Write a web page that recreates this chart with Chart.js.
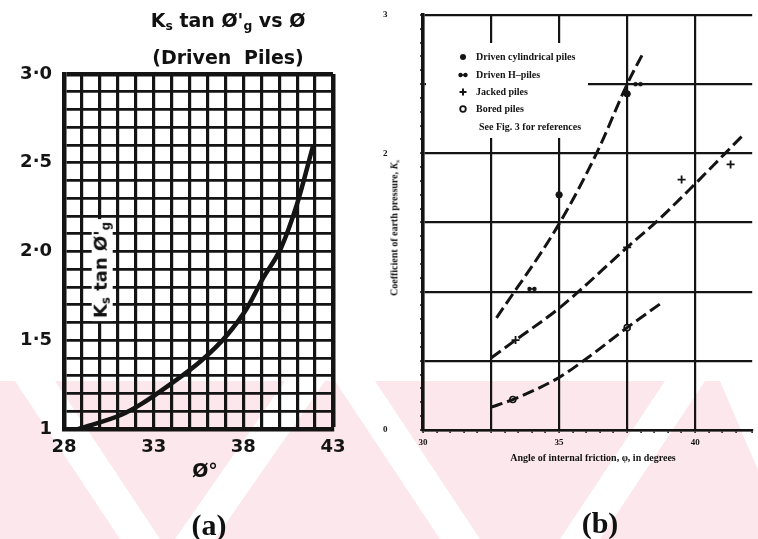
<!DOCTYPE html>
<html><head><meta charset="utf-8">
<script src="https://cdn.jsdelivr.net/npm/chart.js@4.4.0/dist/chart.umd.min.js"></script>
<style>
html,body{margin:0;padding:0;background:#fff;}
#wrap{position:relative;width:758px;height:539px;overflow:hidden;background:#fff;}
#bg{position:absolute;left:0;top:0;}
#ca{position:absolute;left:0;top:0;}
#cb{position:absolute;left:380px;top:0;}
.t{position:absolute;white-space:nowrap;color:#111;transform:translate(-50%,-50%);line-height:1;}
.sans{font-family:"DejaVu Sans",sans-serif;font-weight:bold;}
.serif{font-family:"Liberation Serif",serif;font-weight:bold;}
.t sub{font-size:65%;vertical-align:-0.25em;}
</style></head><body>
<div id="wrap">
<canvas id="bg" width="758" height="539"></canvas>
<canvas id="ca" width="380" height="539"></canvas>
<canvas id="cb" width="378" height="539"></canvas>
<div class="t sans" style="left:228px;top:22px;font-size:19px;">K<sub>s</sub> tan Ø'<sub>g</sub> vs Ø</div>
<div class="t sans" style="left:228px;top:57px;font-size:19px;word-spacing:6px;">(Driven Piles)</div>
<div class="t sans" style="left:102px;top:270px;font-size:18px;background:#fff;padding:0 3px;transform:translate(-50%,-50%) rotate(-90deg);">K<sub>s</sub> tan Ø'<sub>g</sub></div>
<div class="t sans" style="left:205px;top:470px;font-size:19px;">Ø°</div>
<div class="t serif" style="left:209px;top:525px;font-size:30px;">(a)</div>
<div class="t serif" style="left:600px;top:523px;font-size:30px;">(b)</div>
<div class="t serif" style="left:593px;top:458px;font-size:10px;">Angle of internal friction, φ, in degrees</div>
<div class="t serif" style="left:395px;top:228px;font-size:10px;transform:translate(-50%,-50%) rotate(-90deg);">Coefficient of earth pressure, <i>K</i><sub>s</sub></div>
</div>
<script>
// ---------- Chart (a) data ----------
const phiA = [28.8, 31.2, 32.3, 33.9, 35.6, 37.1, 38.2, 39.1, 40.1, 41.0, 41.9];
const ksTanA = [1.00, 1.08, 1.14, 1.25, 1.38, 1.53, 1.68, 1.85, 2.02, 2.27, 2.60];
const xTickLabelsA = [28, 33, 38, 43];
const yTickValsA = [1, 1.5, 2, 2.5, 3];
const yTickLabelsA = ['1', '1·5', '2·0', '2·5', '3·0'];

// ---------- Chart (b) data ----------
const phiCylCurve = [32.7, 35.0, 36.4, 37.5, 38.1];
const ksCylCurve = [0.81, 1.49, 2.01, 2.50, 2.73];
const phiJackCurve = [32.5, 33.4, 35.0, 37.5, 38.6, 39.9, 41.1, 41.8];
const ksJackCurve = [0.52, 0.65, 0.88, 1.32, 1.51, 1.76, 2.00, 2.14];
const phiBoredCurve = [32.5, 33.3, 35.0, 36.1, 37.5, 38.7];
const ksBoredCurve = [0.165, 0.22, 0.38, 0.53, 0.74, 0.91];
const phiCylPts = [35.0, 37.5];
const ksCylPts = [1.70, 2.43];
const phiHPts = [34.0, 37.9];
const ksHPts = [1.02, 2.50];
const phiJackPts = [33.4, 37.5, 39.5, 41.3];
const ksJackPts = [0.65, 1.32, 1.81, 1.92];
const phiBoredPts = [33.3, 37.5];
const ksBoredPts = [0.22, 0.74];
const xTickLabelsB = [30, 35, 40];
const yTickLabelsB = [0, 2, 3];
const legendLabelsB = ['Driven cylindrical piles', 'Driven H\u2013piles', 'Jacked piles', 'Bored piles', 'See Fig. 3 for references'];

const ink = '#141414';
const pts = (xs, ys) => xs.map((x, i) => ({x, y: ys[i]}));

// ---------- background watermark band ----------
(function(){
  const c = document.getElementById('bg').getContext('2d');
  c.fillStyle = '#fce8ec';
  c.fillRect(0, 381, 758, 158);
  c.fillStyle = '#ffffff';
  const stripes = [
    [[15,381],[55,381],[160,539],[120,539]],
    [[175,539],[215,539],[325,381],[285,381]],
    [[335,381],[375,381],[480,539],[440,539]],
    [[560,539],[600,539],[705,381],[665,381]],
    [[720,381],[758,381],[758,470]]
  ];
  stripes.forEach(p => { c.beginPath(); c.moveTo(p[0][0], p[0][1]); p.slice(1).forEach(q => c.lineTo(q[0], q[1])); c.closePath(); c.fill(); });
})();

// ---------- Chart (a) ----------
new Chart(document.getElementById('ca'), {
  type: 'scatter',
  data: { datasets: [{
    data: pts(phiA, ksTanA), showLine: true, borderColor: ink, borderWidth: 4.5,
    pointRadius: 0, tension: 0.4, cubicInterpolationMode: 'monotone'
  }]},
  options: {
    responsive: false, animation: false,
    layout: { padding: { top: 74, right: 47, left: 0, bottom: 0 } },
    plugins: { legend: { display: false }, tooltip: { enabled: false } },
    scales: {
      x: {
        type: 'linear', min: 28, max: 43,
        afterFit: s => { s.height = 110; },
        ticks: { stepSize: 1, autoSkip: false, maxRotation: 0, padding: 8, color: ink,
          font: { family: 'DejaVu Sans', weight: 'bold', size: 18 },
          callback: v => xTickLabelsA.includes(Math.round(v * 10) / 10) ? String(v) : '' },
        grid: { color: ink, lineWidth: c => (c.tick && c.tick.value >= 43) ? 4.5 : 3.2, drawTicks: false },
        border: { color: ink, width: 4.5 }
      },
      y: {
        min: 1, max: 3,
        afterFit: s => { s.width = 64; },
        ticks: { stepSize: 0.1, autoSkip: false, padding: 12, color: ink,
          font: { family: 'DejaVu Sans', weight: 'bold', size: 18 },
          callback: v => { const i = yTickValsA.indexOf(Math.round(v * 10) / 10); return i >= 0 ? yTickLabelsA[i] : ''; } },
        grid: { color: ink, lineWidth: c => (c.tick && c.tick.value >= 2.999) ? 4.5 : 2.8, drawTicks: false },
        border: { color: ink, width: 4.5 }
      }
    }
  }
});

// ---------- Chart (b) ----------
function hMarker() {
  const c = document.createElement('canvas'); c.width = 10; c.height = 8;
  const g = c.getContext('2d'); g.fillStyle = ink; g.strokeStyle = ink; g.lineWidth = 1.5;
  g.beginPath(); g.arc(2.5, 4, 2.2, 0, 7); g.fill();
  g.beginPath(); g.arc(7.5, 4, 2.2, 0, 7); g.fill();
  g.beginPath(); g.moveTo(2.5, 4); g.lineTo(7.5, 4); g.stroke();
  return c;
}
const hImg = hMarker();
const isMajorB = (v, step) => Math.abs(v / step - Math.round(v / step)) < 1e-6;

const legendB = {
  id: 'legendB',
  beforeDatasetsDraw(chart) {
    const g = chart.ctx; g.save();
    g.fillStyle = '#ffffff'; g.fillRect(46, 43, 162, 95);
    const mx = 83, tx = 96, rows = [57, 75, 92, 109, 127];
    g.fillStyle = ink; g.strokeStyle = ink;
    g.beginPath(); g.arc(mx, rows[0], 3, 0, 7); g.fill();
    g.drawImage(hImg, mx - 5, rows[1] - 4);
    g.lineWidth = 2; g.beginPath(); g.moveTo(mx - 3.5, rows[2]); g.lineTo(mx + 3.5, rows[2]); g.moveTo(mx, rows[2] - 3.5); g.lineTo(mx, rows[2] + 3.5); g.stroke();
    g.lineWidth = 1.8; g.beginPath(); g.arc(mx, rows[3], 2.8, 0, 7); g.stroke();
    g.font = 'bold 10px "Liberation Serif"'; g.textBaseline = 'middle'; g.textAlign = 'left';
    legendLabelsB.forEach((t, i) => g.fillText(t, i === 4 ? tx + 3 : tx, rows[i]));
    g.restore();
  }
};

new Chart(document.getElementById('cb'), {
  type: 'scatter',
  data: { datasets: [
    { data: pts(phiCylCurve, ksCylCurve), showLine: true, borderColor: ink, borderWidth: 3, borderDash: [12, 5], pointRadius: 0, tension: 0.4, cubicInterpolationMode: 'monotone' },
    { data: pts(phiJackCurve, ksJackCurve), showLine: true, borderColor: ink, borderWidth: 3, borderDash: [12, 5], pointRadius: 0, tension: 0.4, cubicInterpolationMode: 'monotone' },
    { data: pts(phiBoredCurve, ksBoredCurve), showLine: true, borderColor: ink, borderWidth: 3, borderDash: [12, 5], pointRadius: 0, tension: 0.4, cubicInterpolationMode: 'monotone' },
    { data: pts(phiCylPts, ksCylPts), pointStyle: 'circle', pointRadius: 3.2, backgroundColor: ink, borderColor: ink },
    { data: pts(phiHPts, ksHPts), pointStyle: hImg, pointRadius: 4 },
    { data: pts(phiJackPts, ksJackPts), pointStyle: 'cross', pointRadius: 4, borderColor: ink, borderWidth: 1.8 },
    { data: pts(phiBoredPts, ksBoredPts), pointStyle: 'circle', pointRadius: 3, backgroundColor: '#fff', borderColor: ink, borderWidth: 1.6 }
  ]},
  options: {
    responsive: false, animation: false,
    layout: { padding: { top: 15, right: 0, left: 3, bottom: 0 } },
    plugins: { legend: { display: false }, tooltip: { enabled: false } },
    scales: {
      x: {
        type: 'linear', min: 30, max: 30 + 335 / 27.7,
        afterFit: s => { s.height = 109; },
        ticks: { stepSize: 0.5, autoSkip: false, maxRotation: 0, padding: 4, color: ink,
          font: { family: 'Liberation Serif', weight: 'bold', size: 9 },
          callback: v => xTickLabelsB.includes(Math.round(v * 10) / 10) ? String(v) : '' },
        grid: { color: c => (c.tick && isMajorB(c.tick.value, 2.5)) ? ink : 'rgba(0,0,0,0)', lineWidth: 2.2,
          tickColor: ink, tickLength: 3, tickWidth: 1.5 },
        border: { color: ink, width: 2.5 }
      },
      y: {
        min: 0, max: 3,
        afterFit: s => { s.width = 40; },
        ticks: { stepSize: 0.1, autoSkip: false, padding: 3, crossAlign: 'far', color: ink,
          font: { family: 'Liberation Serif', weight: 'bold', size: 9 },
          callback: v => yTickLabelsB.includes(Math.round(v * 10) / 10) ? String(Math.round(v)) : '' },
        grid: { color: c => (c.tick && isMajorB(c.tick.value, 0.5)) ? ink : 'rgba(0,0,0,0)', lineWidth: 2.2,
          tickColor: ink, tickLength: 3, tickWidth: 1.5 },
        border: { color: ink, width: 3.5 }
      }
    }
  },
  plugins: [legendB]
});
</script>
</body></html>
